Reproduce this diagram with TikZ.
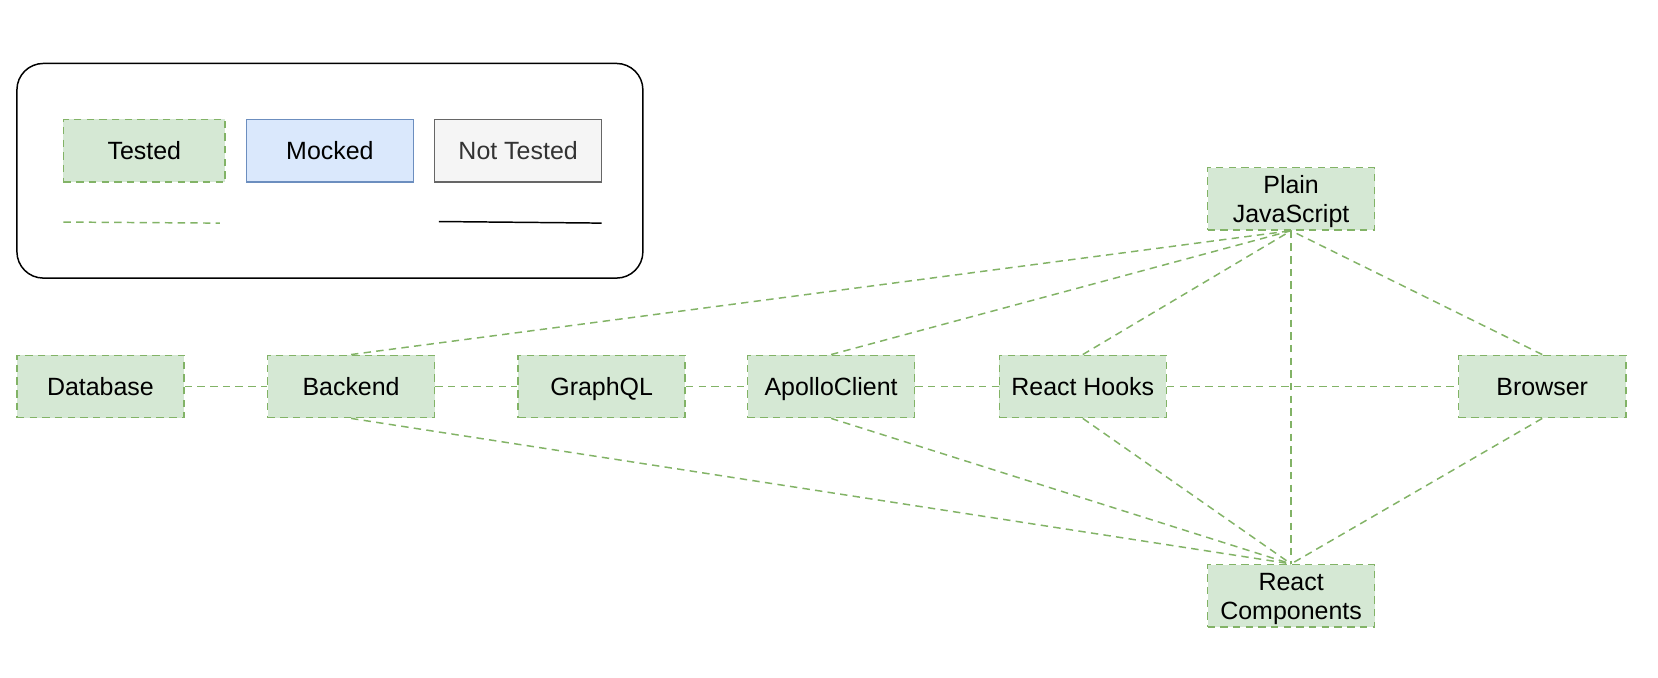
\documentclass[tikz,border=0pt]{standalone}
\usepackage{fontspec}
\setmainfont{Liberation Sans}
\usepackage{tikz}

\definecolor{tfill}{HTML}{D5E8D4}
\definecolor{tline}{HTML}{82B366}
\definecolor{mfill}{HTML}{DAE8FC}
\definecolor{mline}{HTML}{6C8EBF}
\definecolor{nfill}{HTML}{F5F5F5}
\definecolor{nline}{HTML}{666666}
\definecolor{ntext}{HTML}{333333}

\begin{document}
\begin{tikzpicture}[x=0.5pt,y=-0.5pt,
  every node/.style={font=\fontsize{11.8}{13.6}\selectfont,align=center,inner sep=0pt,text height=8.5pt,text depth=0pt},
  twolines/.style={text height=22.1pt},
  tested/.style={shape=rectangle,draw=tline,fill=tfill,line width=0.7pt,dash pattern=on 3.5pt off 2.5pt,minimum width=79pt,minimum height=29.5pt},
  mocked/.style={shape=rectangle,draw=mline,fill=mfill,line width=0.7pt,minimum width=79pt,minimum height=29.5pt},
  nottested/.style={shape=rectangle,draw=nline,fill=nfill,text=ntext,line width=0.7pt,minimum width=79pt,minimum height=29.5pt},
  testedline/.style={draw=tline,line width=0.7pt,dash pattern=on 3.5pt off 2.5pt},
  plainline/.style={draw=black,line width=0.7pt}]
\useasboundingbox (0,0) rectangle (1568,641);

% legend
\node[shape=rectangle,draw=black,rounded corners=12.5pt,line width=0.7pt,minimum width=296pt,minimum height=101.5pt] (L) at (312,161.5) {};
\node[tested,minimum width=76.5pt] (LT) at (136.5,142.5) {Tested};
\node[mocked] (LM) at (312,142.5) {Mocked};
\node[nottested] (LN) at (490,142.5) {Not Tested};
\coordinate (LTa) at (60,210);
\coordinate (LTb) at (208,211);
\coordinate (LNa) at (415,209.5);
\coordinate (LNb) at (569,211);
\path [testedline] (LTa) edge (LTb);
\path [plainline] (LNa) edge (LNb);

% components
\node[tested] (DB) at (95,365.5) {Database};
\node[tested] (BE) at (332,365.5) {Backend};
\node[tested] (GQL) at (569,365.5) {GraphQL};
\node[tested] (AC) at (786,365.5) {ApolloClient};
\node[tested] (RH) at (1024,365.5) {React Hooks};
\node[tested] (BR) at (1458.5,365.5) {Browser};
\node[tested,twolines] (JS) at (1221,188) {Plain\\JavaScript};
\node[tested,twolines] (RC) at (1221,563.5) {React\\Components};

\path [testedline] (DB) edge (BE);
\path [testedline] (BE) edge (GQL);
\path [testedline] (GQL) edge (AC);
\path [testedline] (AC) edge (RH);
\path [testedline] (RH) edge (BR);
\path [testedline] (BE.north) edge (JS.south);
\path [testedline] (AC.north) edge (JS.south);
\path [testedline] (RH.north) edge (JS.south);
\path [testedline] (BR.north) edge (JS.south);
\path [testedline] (JS.south) edge (RC.north);
\path [testedline] (BE.south) edge (RC.north);
\path [testedline] (AC.south) edge (RC.north);
\path [testedline] (RH.south) edge (RC.north);
\path [testedline] (BR.south) edge (RC.north);
\end{tikzpicture}
\end{document}
